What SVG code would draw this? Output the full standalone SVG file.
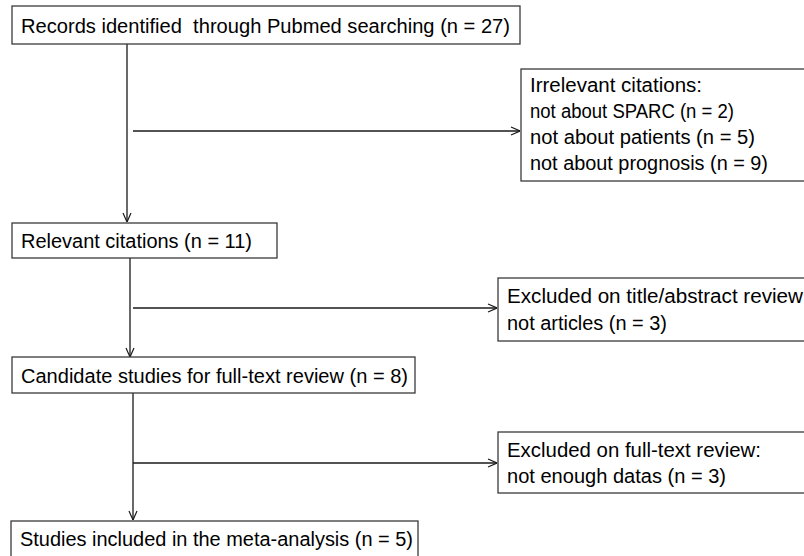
<svg xmlns="http://www.w3.org/2000/svg" width="804" height="556" viewBox="0 0 804 556">
<defs>
<style>
.box{fill:#fff;stroke:#3a3a3a;stroke-width:1.3}
.t{font-family:"Liberation Sans",Arial,sans-serif;font-size:20px;fill:#000;white-space:pre}
.ln{stroke:#1a1a1a;stroke-width:1.3;fill:none}
</style>
<marker id="ah" viewBox="0 0 10 10" refX="10" refY="5" markerWidth="10" markerHeight="10" markerUnits="userSpaceOnUse" orient="auto">
<path d="M1,1 L10,5 L1,9" fill="none" stroke="#1a1a1a" stroke-width="1.2"/>
</marker>
</defs>
<rect width="804" height="556" fill="#fff"/>
<g id="connectors">
<line class="ln" x1="127" y1="44" x2="127" y2="222" marker-end="url(#ah)"/>
<line class="ln" x1="133" y1="131" x2="520" y2="131" marker-end="url(#ah)"/>
<line class="ln" x1="130" y1="258" x2="130" y2="357" marker-end="url(#ah)"/>
<line class="ln" x1="133" y1="308" x2="497" y2="308" marker-end="url(#ah)"/>
<line class="ln" x1="133" y1="393" x2="133" y2="520" marker-end="url(#ah)"/>
<line class="ln" x1="133" y1="463" x2="497" y2="463" marker-end="url(#ah)"/>
</g>
<g id="records">
<rect class="box" x="12" y="6" width="508" height="38"/>
<text class="t" x="21" y="33" xml:space="preserve" textLength="489" lengthAdjust="spacingAndGlyphs">Records identified  through Pubmed searching (n = 27)</text>
</g>
<g id="irrelevant">
<rect class="box" x="521" y="69" width="300" height="112"/>
<text class="t" x="530" y="92" textLength="172" lengthAdjust="spacingAndGlyphs">Irrelevant citations:</text>
<text class="t" x="530" y="118" textLength="204" lengthAdjust="spacingAndGlyphs">not about SPARC (n = 2)</text>
<text class="t" x="530" y="144" textLength="225" lengthAdjust="spacingAndGlyphs">not about patients (n = 5)</text>
<text class="t" x="530" y="170" textLength="238" lengthAdjust="spacingAndGlyphs">not about prognosis (n = 9)</text>
</g>
<g id="relevant">
<rect class="box" x="12" y="223" width="265" height="35"/>
<text class="t" x="21" y="248" textLength="231" lengthAdjust="spacingAndGlyphs">Relevant citations (n = 11)</text>
</g>
<g id="excluded-title">
<rect class="box" x="498" y="278" width="320" height="63"/>
<text class="t" x="507" y="303" textLength="296" lengthAdjust="spacingAndGlyphs">Excluded on title/abstract review</text>
<text class="t" x="507" y="330" textLength="160" lengthAdjust="spacingAndGlyphs">not articles (n = 3)</text>
</g>
<g id="candidate">
<rect class="box" x="12" y="357" width="403" height="36"/>
<text class="t" x="21" y="383" textLength="387" lengthAdjust="spacingAndGlyphs">Candidate studies for full-text review (n = 8)</text>
</g>
<g id="excluded-fulltext">
<rect class="box" x="498" y="432" width="320" height="61"/>
<text class="t" x="507" y="457" textLength="254" lengthAdjust="spacingAndGlyphs">Excluded on full-text review:</text>
<text class="t" x="507" y="483" textLength="219" lengthAdjust="spacingAndGlyphs">not enough datas (n = 3)</text>
</g>
<g id="included">
<rect class="box" x="11" y="521" width="407" height="45"/>
<text class="t" x="20" y="546" textLength="393" lengthAdjust="spacingAndGlyphs">Studies included in the meta-analysis (n = 5)</text>
</g>
</svg>
